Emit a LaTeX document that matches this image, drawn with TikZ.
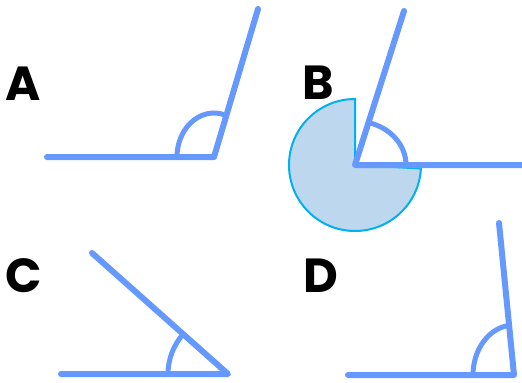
\documentclass[tikz,border=0pt]{standalone}
\usepackage{fontspec}
\setmainfont{Poppins}
\definecolor{raycol}{RGB}{102,153,255}
\definecolor{secfill}{RGB}{189,215,238}
\definecolor{secline}{RGB}{0,176,240}
\begin{document}
\begin{tikzpicture}[x=1bp,y=1bp,
  ray/.style={draw=raycol,line width=6bp,line cap=round,line join=round},
  anglearc/.style={draw=raycol,line width=5bp},
  lab/.style={font=\fontsize{48}{48}\selectfont\bfseries,inner sep=0pt,text=black}]
\useasboundingbox (0,0) rectangle (522,382);
% sector B
\coordinate (vB) at (355,217);
\filldraw[fill=secfill,draw=secline,line width=2bp,line join=miter]
  (vB) -- ++(90:66bp) arc[start angle=90,end angle=357,radius=66bp] -- cycle;
% A
\coordinate (vA) at (214,225);
\coordinate (lA) at (47,225);
\coordinate (tA) at (258,373);
\draw[anglearc] (vA) ++(70.5:37bp and 44bp) arc[start angle=70.5,end angle=180,x radius=37bp,y radius=44bp];
\draw[ray] (lA) -- (vA) -- (tA);
% B
\coordinate (rB) at (526,217);
\coordinate (tB) at (404,371);
\draw[anglearc] (vB) ++(74.6:51bp and 44bp) arc[start angle=74.6,end angle=0,x radius=51bp,y radius=44bp];
\draw[ray] (rB) -- (vB) -- (tB);
% C
\coordinate (vC) at (228,8);
\coordinate (lC) at (61,8);
\coordinate (tC) at (92,129);
\draw[anglearc] (vC) ++(138.3:60bp) arc[start angle=138.3,end angle=180,radius=60bp];
\draw[ray] (lC) -- (vC) -- (tC);
% D
\coordinate (vD) at (514,7);
\coordinate (lD) at (348,7);
\coordinate (tD) at (499,159);
\draw[anglearc] (vD) ++(96.9:41bp and 50bp) arc[start angle=96.9,end angle=180,x radius=41bp,y radius=50bp];
\draw[ray] (lD) -- (vD) -- (tD);
% labels
\node[lab] (labA) at (23,298) {A};
\node[lab] (labB) at (318,299) {B};
\node[lab] (labC) at (24,106) {C};
\node[lab] (labD) at (321,106) {D};
\end{tikzpicture}
\end{document}
